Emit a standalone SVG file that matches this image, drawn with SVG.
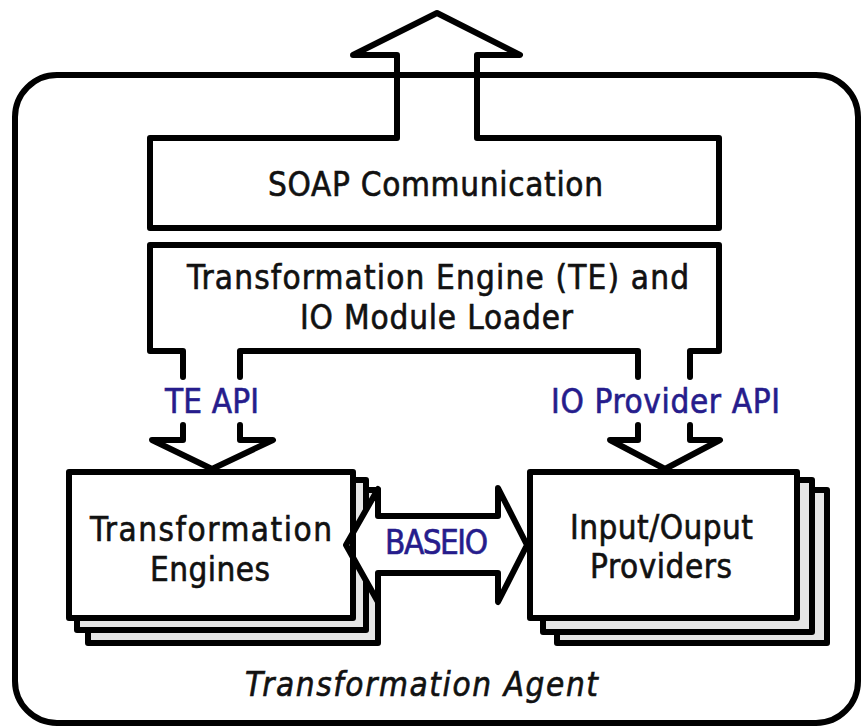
<svg xmlns="http://www.w3.org/2000/svg" width="864" height="727" viewBox="0 0 864 727">
<style>
.ln{fill:none;stroke:#000;stroke-width:6;stroke-linejoin:round;stroke-linecap:round}
.box{fill:none;stroke:#000;stroke-width:6;stroke-linejoin:round}
.back{fill:#e6e6e6;stroke:#000;stroke-width:6;stroke-linejoin:round}
.wf{fill:#fff;stroke:#000;stroke-width:6;stroke-linejoin:round}
.t{font-family:"DejaVu Sans Condensed","DejaVu Sans",sans-serif;font-size:33px;fill:#111;stroke:#111;stroke-width:0.6;text-anchor:middle}
.b{fill:#261c8c;stroke:#261c8c}
.i{font-style:italic}
</style>
<rect width="864" height="727" fill="#fff"/>
<g id="soap-communication">
<rect x="150" y="138" width="569" height="90" fill="#fff"/>
<path class="ln" d="M397,138 H150 V228 H719 V138 H477"/>
<text class="t" x="435.5" y="196" textLength="335" lengthAdjust="spacing">SOAP Communication</text>
</g>
<g id="te-loader">
<polyline class="ln" points="183,377 183,351 150,351 150,245 719,245 719,351 690,351 690,377"/>
<polyline class="ln" points="240,377 240,351 638,351 638,377"/>
<text class="t" x="438" y="289" textLength="502" lengthAdjust="spacing">Transformation Engine (TE) and</text>
<text class="t" x="436.5" y="329" textLength="273" lengthAdjust="spacing">IO Module Loader</text>
</g>
<g id="transformation-engines-back">
<rect class="back" x="88" y="490" width="290" height="153"/>
<rect class="back" x="77" y="480" width="289" height="150"/>
<rect x="69" y="472" width="284" height="146" fill="#fff"/>
</g>
<g id="connectors">
<path class="wf" d="M397,138 V55 H353 L437,13 L520,55 H477 V138"/>
<polyline class="ln" points="183,425 183,440 152,440 212,469 273,440 240,440 240,425"/>
<polyline class="ln" points="638,425 638,440 610,440 665,469 720,440 690,440 690,425"/>
<text class="t b" x="212" y="413" textLength="94" lengthAdjust="spacing">TE API</text>
<text class="t b" x="665.5" y="413" textLength="229" lengthAdjust="spacing">IO Provider API</text>
<polygon class="wf" points="346,545 378,489 378,516 498,516 498,488 527,545 498,602 498,573 378,573 378,602"/>
<text class="t b" x="436.5" y="554" textLength="103" lengthAdjust="spacing">BASEIO</text>
</g>
<g id="transformation-engines">
<rect class="box" x="69" y="472" width="284" height="146"/>
<text class="t" x="211" y="541" textLength="242" lengthAdjust="spacing">Transformation</text>
<text class="t" x="210" y="581" textLength="120" lengthAdjust="spacing">Engines</text>
</g>
<g id="io-providers">
<rect class="back" x="557" y="490" width="270" height="153"/>
<rect class="back" x="543" y="480" width="269" height="152"/>
<rect class="box" x="530" y="472" width="267" height="146" fill="#fff" style="fill:#fff"/>
<text class="t" x="661.5" y="539" textLength="183" lengthAdjust="spacing">Input/Ouput</text>
<text class="t" x="661" y="578" textLength="142" lengthAdjust="spacing">Providers</text>
</g>
<g id="transformation-agent">
<rect class="ln" x="15" y="75" width="843" height="648" rx="42"/>
<text class="t i" x="421.5" y="696" textLength="353" lengthAdjust="spacing">Transformation Agent</text>
</g>
</svg>
